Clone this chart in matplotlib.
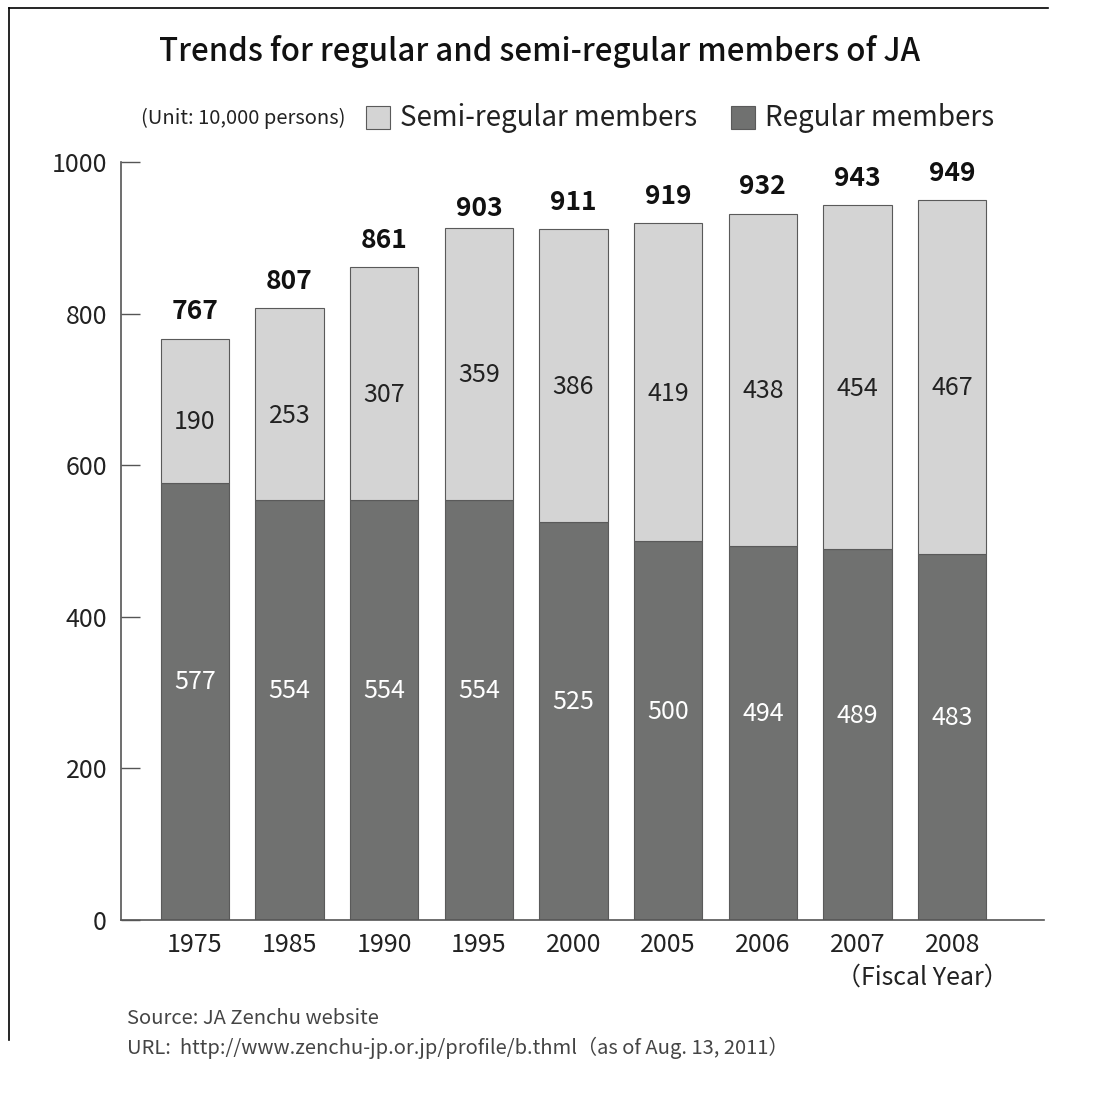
import numpy as np
import matplotlib
matplotlib.use('Agg')
import matplotlib.pyplot as plt
from matplotlib.patches import Rectangle
from matplotlib.lines import Line2D

plt.rcParams['font.family'] = ['Noto Sans CJK JP', 'DejaVu Sans']

years = ['1975', '1985', '1990', '1995', '2000', '2005', '2006', '2007', '2008']
regular = [577, 554, 554, 554, 525, 500, 494, 489, 483]
semi = [190, 253, 307, 359, 386, 419, 438, 454, 467]
totals = [767, 807, 861, 903, 911, 919, 932, 943, 949]

dark = '#707170'
light = '#d4d4d4'
edge = '#5a5a5a'
axis_col = '#555555'

W, H = 1117, 1099
fig = plt.figure(figsize=(W / 100, H / 100), dpi=100)
fig.patch.set_facecolor('white')
ax = fig.add_axes([121 / W, 1 - 920 / H, (1044 - 121) / W, (920 - 162) / H])

x = np.arange(len(years))
ax.bar(x, regular, width=0.72, color=dark, edgecolor=edge, linewidth=0.8)
ax.bar(x, semi, bottom=regular, width=0.72, color=light, edgecolor=edge, linewidth=0.8)

for i in range(len(years)):
    ax.text(x[i], regular[i] / 2 + 25, str(regular[i]), ha='center', va='center',
            color='white', fontsize=18)
    ax.text(x[i], regular[i] + semi[i] / 2 - 15, str(semi[i]), ha='center', va='center',
            color='#222222', fontsize=18)
    ax.text(x[i], totals[i] + 18, str(totals[i]), ha='center', va='bottom',
            color='#111111', fontsize=19, fontweight='bold')

ax.set_xlim(-0.78, 8.97)
ax.set_ylim(0, 1000)
ax.set_yticks([0, 200, 400, 600, 800, 1000])
ax.set_xticks(x)
ax.set_xticklabels(years)
ax.tick_params(axis='y', direction='in', length=14, width=1, color=axis_col,
               labelsize=18, pad=10, labelcolor='#222222')
ax.tick_params(axis='x', length=0, labelsize=18, pad=9, labelcolor='#222222')
for s in ['top', 'right']:
    ax.spines[s].set_visible(False)
for s in ['left', 'bottom']:
    ax.spines[s].set_color(axis_col)
    ax.spines[s].set_linewidth(1.2)

fig.text(540 / W, 1 - 52 / H, 'Trends for regular and semi-regular members of JA',
         ha='center', va='center', fontsize=22.5, fontweight='medium', color='#111111')
fig.text(141 / W, 1 - 118 / H, '(Unit: 10,000 persons)', ha='left', va='center',
         fontsize=14.5, color='#222222')

fig.patches.append(Rectangle((366 / W, 1 - 129 / H), 24 / W, 23 / H, transform=fig.transFigure,
                             facecolor=light, edgecolor=edge, linewidth=0.8))
fig.text(400 / W, 1 - 118 / H, 'Semi-regular members', ha='left', va='center',
         fontsize=20, color='#222222')
fig.patches.append(Rectangle((731 / W, 1 - 129 / H), 24 / W, 23 / H, transform=fig.transFigure,
                             facecolor=dark, edgecolor=edge, linewidth=0.8))
fig.text(765 / W, 1 - 118 / H, 'Regular members', ha='left', va='center',
         fontsize=20, color='#222222')

fig.text(922 / W, 1 - 978 / H, '（Fiscal Year）', ha='center', va='center',
         fontsize=18, color='#222222')
fig.text(127 / W, 1 - 1018 / H, 'Source: JA Zenchu website', ha='left', va='center',
         fontsize=14.5, color='#444444')
fig.text(127 / W, 1 - 1048 / H,
         'URL:  http://www.zenchu-jp.or.jp/profile/b.thml（as of Aug. 13, 2011）',
         ha='left', va='center', fontsize=14.5, color='#444444')

# frame lines
fig.lines.append(Line2D([9 / W, 9 / W], [1 - 8 / H, 1 - 1040 / H], transform=fig.transFigure,
                        color='black', linewidth=1.2))
fig.lines.append(Line2D([9 / W, 1048 / W], [1 - 8 / H, 1 - 8 / H], transform=fig.transFigure,
                        color='black', linewidth=1.2))

fig.savefig('out.png', dpi=100)
